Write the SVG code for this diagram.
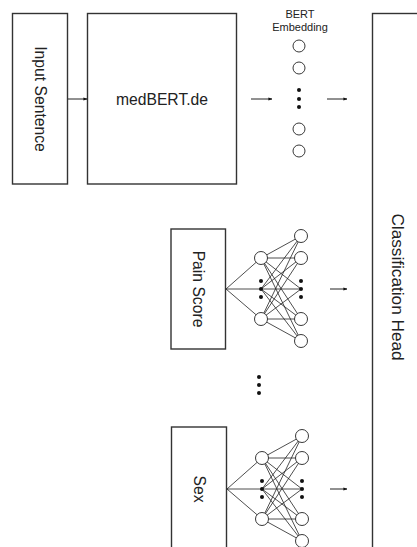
<svg xmlns="http://www.w3.org/2000/svg" width="417" height="547" viewBox="0 0 417 547">
<defs>
<style>
.box{fill:#fff;stroke:#333;stroke-width:1.4}
.lbl{font-family:"Liberation Sans",Arial,sans-serif;font-size:15.7px;fill:#222}
.big{font-size:17.2px}
.small{font-family:"Liberation Sans",Arial,sans-serif;font-size:11px;fill:#222}
.ln{stroke:#222;stroke-width:0.8;fill:none}
.node{fill:#fff;stroke:#222;stroke-width:0.9}
.dot{fill:#111}
.arr{stroke:#222;stroke-width:1;fill:none;marker-end:url(#ah)}
</style>
<marker id="ah" viewBox="0 0 10 10" refX="9" refY="5" markerWidth="4" markerHeight="4" orient="auto" markerUnits="strokeWidth">
<path d="M0,1 L10,5 L0,9 z" fill="#111"/>
</marker>
<g id="net">
<g class="ln">
<path d="M0,0 L35,-31 M0,0 L75,0 M0,0 L35,30"/>
<path d="M35,-31 L75,-53 M35,-31 L75,-31 M35,-31 L75,0 M35,-31 L75,30 M35,-31 L75,52"/>
<path d="M35,0 L75,-53 M35,0 L75,-31 M35,0 L75,30 M35,0 L75,52"/>
<path d="M35,30 L75,-53 M35,30 L75,-31 M35,30 L75,0 M35,30 L75,30 M35,30 L75,52"/>
</g>
<circle class="node" cx="35" cy="-31" r="6.5"/>
<circle class="node" cx="35" cy="30" r="6.5"/>
<circle class="node" cx="75" cy="-53" r="6.5"/>
<circle class="node" cx="75" cy="-31" r="6.5"/>
<circle class="node" cx="75" cy="30" r="6.5"/>
<circle class="node" cx="75" cy="52" r="6.5"/>
<circle class="dot" cx="35" cy="-8" r="2"/>
<circle class="dot" cx="35" cy="0" r="2"/>
<circle class="dot" cx="35" cy="8" r="2"/>
<circle class="dot" cx="75" cy="-8" r="2"/>
<circle class="dot" cx="75" cy="0" r="2"/>
<circle class="dot" cx="75" cy="8" r="2"/>
</g>
</defs>

<g id="input-sentence">
<rect class="box" x="12.5" y="13.5" width="55" height="170.5"/>
<text class="lbl" text-anchor="middle" transform="translate(40,99) rotate(90)" y="5.5">Input Sentence</text>
</g>

<g id="medbert">
<rect class="box" x="87.5" y="13.5" width="149" height="170.5"/>
<text class="lbl" x="162" y="105" text-anchor="middle">medBERT.de</text>
</g>

<g id="bert-embedding">
<text class="small" x="300" y="18" text-anchor="middle">BERT</text>
<text class="small" x="300" y="31" text-anchor="middle">Embedding</text>
<circle class="node" cx="299" cy="46" r="6"/>
<circle class="node" cx="299" cy="68" r="6"/>
<circle class="dot" cx="299" cy="90" r="2"/>
<circle class="dot" cx="299" cy="99" r="2"/>
<circle class="dot" cx="299" cy="107" r="2"/>
<circle class="node" cx="299" cy="129" r="6"/>
<circle class="node" cx="299" cy="151" r="6"/>
</g>

<g id="classification-head">
<rect class="box" x="372.5" y="13.5" width="100" height="600"/>
<text class="lbl big" text-anchor="middle" transform="translate(398,287) rotate(90)" y="6">Classification Head</text>
</g>

<g id="pain-score">
<rect class="box" x="171" y="229" width="54.5" height="120"/>
<text class="lbl" text-anchor="middle" transform="translate(198,289) rotate(90)" y="5.5">Pain Score</text>
<use href="#net" x="226" y="289"/>
</g>

<g id="sex">
<rect class="box" x="171.5" y="427" width="55" height="200"/>
<text class="lbl" text-anchor="middle" transform="translate(199,489) rotate(90)" y="5.5">Sex</text>
<use href="#net" x="227" y="489"/>
</g>

<g id="ellipsis">
<circle class="dot" cx="259" cy="377" r="2"/>
<circle class="dot" cx="259" cy="385" r="2"/>
<circle class="dot" cx="259" cy="393" r="2"/>
</g>

<g id="connectors">
<line class="arr" x1="68" y1="99" x2="87" y2="99"/>
<line class="arr" x1="251" y1="99" x2="272" y2="99"/>
<line class="arr" x1="327" y1="99" x2="347" y2="99"/>
<line class="arr" x1="330" y1="289" x2="347" y2="289"/>
<line class="arr" x1="330" y1="489" x2="347" y2="489"/>
</g>
</svg>
